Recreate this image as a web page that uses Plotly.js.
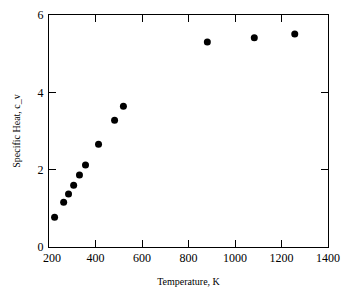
<!DOCTYPE html>
<html>
<head>
<meta charset="utf-8">
<script src="https://cdn.plot.ly/plotly-3.0.1.min.js"></script>
<style>html,body{margin:0;padding:0;background:#fff;}#chart{width:354px;height:294px;}</style>
</head>
<body>
<div id="chart"></div>
<script>
var temperature = [224, 263, 284, 306, 331, 357, 413, 482, 520, 881, 1083, 1257];
var specificHeat = [0.77, 1.16, 1.37, 1.60, 1.86, 2.12, 2.66, 3.28, 3.64, 5.30, 5.41, 5.51];
var xTicks = [200, 400, 600, 800, 1000, 1200, 1400];
var xTickLabels = ['\u00a0\u00a0200', '400', '600', '800', '1000', '1200', '1400'];
var yTicks = [0, 2, 4, 6];
var yTickLabels = ['0', '2', '4', '6'];

var family = '"Liberation Serif", "Times New Roman", serif';
var tickFont = {family: family, size: 12, color: '#000'};
var titleFont = {family: family, size: 10, color: '#000'};

Plotly.newPlot('chart', [{
  x: temperature,
  y: specificHeat,
  type: 'scatter',
  mode: 'markers',
  marker: {color: '#000', size: 7},
  hoverinfo: 'none'
}], {
  width: 354,
  height: 294,
  margin: {l: 49, r: 26, t: 15, b: 47},
  paper_bgcolor: '#fff',
  plot_bgcolor: '#fff',
  font: tickFont,
  showlegend: false,
  xaxis: {
    range: [200, 1400],
    tickvals: xTicks,
    ticktext: xTickLabels,
    ticks: 'inside',
    ticklen: 7,
    tickcolor: '#000',
    showline: true,
    linecolor: '#000',
    linewidth: 1,
    mirror: 'ticks',
    showgrid: false,
    zeroline: false,
    tickfont: tickFont,
    title: {text: 'Temperature, K', font: titleFont, standoff: 13}
  },
  yaxis: {
    range: [0, 6],
    tickvals: yTicks,
    ticktext: yTickLabels,
    ticks: 'inside',
    ticklen: 7,
    tickcolor: '#000',
    showline: true,
    linecolor: '#000',
    linewidth: 1,
    mirror: 'ticks',
    showgrid: false,
    zeroline: false,
    ticklabelstandoff: 2,
    tickfont: tickFont,
    title: {text: 'Specific Heat, c_v', font: titleFont, standoff: 15}
  }
}, {staticPlot: true, displayModeBar: false});
</script>
</body>
</html>
